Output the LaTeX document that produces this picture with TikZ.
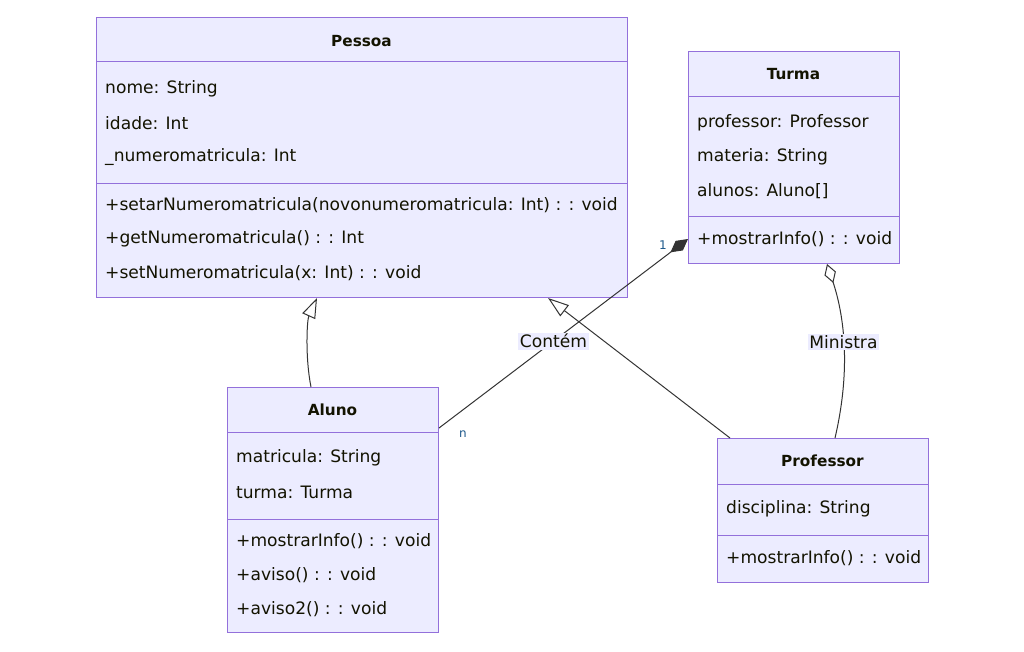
\documentclass[tikz,border=0pt]{standalone}
\usepackage{fontspec}
\setmainfont{DejaVu Sans}
\usetikzlibrary{arrows.meta,calc}
\definecolor{boxfill}{HTML}{ECECFF}
\definecolor{boxline}{HTML}{9370DB}
\definecolor{edgecol}{HTML}{333333}
\definecolor{cardcol}{HTML}{1F5A8C}
\definecolor{txtcol}{HTML}{131300}
\begin{document}
\begin{tikzpicture}[x=1pt,y=-1pt,
  classbox/.style={draw=boxline, fill=boxfill, line width=1pt, inner sep=0pt, anchor=north west},
  divline/.style={draw=boxline, line width=1pt},
  member/.style={anchor=west, inner sep=0pt, text=txtcol, font=\fontsize{17.1}{20}\selectfont},
  ctitle/.style={inner sep=0pt, text=txtcol, font=\fontsize{15.3}{18}\selectfont\bfseries},
  edge/.style={draw=edgecol, line width=1pt},
  lbl/.style={fill=boxfill, inner sep=1.5pt, text=txtcol, font=\fontsize{17.1}{20}\selectfont},
  card/.style={inner sep=0pt, text=cardcol, font=\fontsize{12}{14}\selectfont}
]
\useasboundingbox (0,0) rectangle (1024,651);
\fill[white] (0,0) rectangle (1024,651);

% Pessoa
\node[classbox, minimum width=531, minimum height=280] (pessoa) at (96,17) {};
\draw[divline] (96,61) -- (627,61);
\draw[divline] (96,183) -- (627,183);
\node[ctitle] (pessoaT) at (361.5,41) {Pessoa};
\node[member] (p1) at (105,89) {nome: String};
\node[member] (p2) at (105,123) {idade: Int};
\node[member] (p3) at (105,157) {\_numeromatricula: Int};
\node[member] (p4) at (105,205) {+setarNumeromatricula(novonumeromatricula: Int) : : void};
\node[member] (p5) at (105,239) {+getNumeromatricula() : : Int};
\node[member] (p6) at (105,273) {+setNumeromatricula(x: Int) : : void};

% Turma
\node[classbox, minimum width=211, minimum height=212] (turma) at (688,51) {};
\draw[divline] (688,96) -- (899,96);
\draw[divline] (688,216) -- (899,216);
\node[ctitle] (turmaT) at (793.5,74) {Turma};
\node[member] (t1) at (697,123) {professor: Professor};
\node[member] (t2) at (697,157) {materia: String};
\node[member] (t3) at (697,191) {alunos: Aluno[]};
\node[member] (t4) at (697,239) {+mostrarInfo() : : void};

% Aluno
\node[classbox, minimum width=211, minimum height=245] (aluno) at (227,387) {};
\draw[divline] (227,432) -- (438,432);
\draw[divline] (227,519) -- (438,519);
\node[ctitle] (alunoT) at (332.5,410) {Aluno};
\node[member] (a1) at (236,458) {matricula: String};
\node[member] (a2) at (236,492) {turma: Turma};
\node[member] (a3) at (236,541) {+mostrarInfo() : : void};
\node[member] (a4) at (236,575) {+aviso() : : void};
\node[member] (a5) at (236,609) {+aviso2() : : void};

% Professor
\node[classbox, minimum width=211, minimum height=144] (professor) at (717,438) {};
\draw[divline] (717,484) -- (928,484);
\draw[divline] (717,535) -- (928,535);
\node[ctitle] (professorT) at (822.5,461) {Professor};
\node[member] (r1) at (726,509) {disciplina: String};
\node[member] (r2) at (726,558) {+mostrarInfo() : : void};

% Aluno --|> Pessoa
\draw[edge, -{Triangle[open, length=20, width=14]}]
  ($(aluno.north west)+(84,0)$) .. controls +(-6,-30) and +(-10,22) .. ($(pessoa.south west)+(221,0)$);

% Professor --|> Pessoa
\draw[edge, -{Triangle[open, length=21, width=14]}]
  ($(professor.north west)+(13,0)$) -- ($(pessoa.south west)+(452,0)$);

% Turma *-- Aluno : Contem
\draw[edge, -{Diamond[length=22, width=12]}]
  ($(aluno.north east)+(0,41)$) -- node[lbl, pos=0.46] (contem) {Contém} ($(turma.south west)+(0,-25)$);
\node[card] (c1) at (663,245) {1};
\node[card] (cn) at (463,434) {n};

% Turma o-- Professor : Ministra
\draw[edge, -{Diamond[open, length=20, width=12]}]
  ($(professor.north west)+(118,0)$) .. controls +(17,-73) and +(16,48) .. node[lbl, pos=0.5] (ministra) {Ministra} ($(turma.south west)+(139,0)$);
\end{tikzpicture}
\end{document}
